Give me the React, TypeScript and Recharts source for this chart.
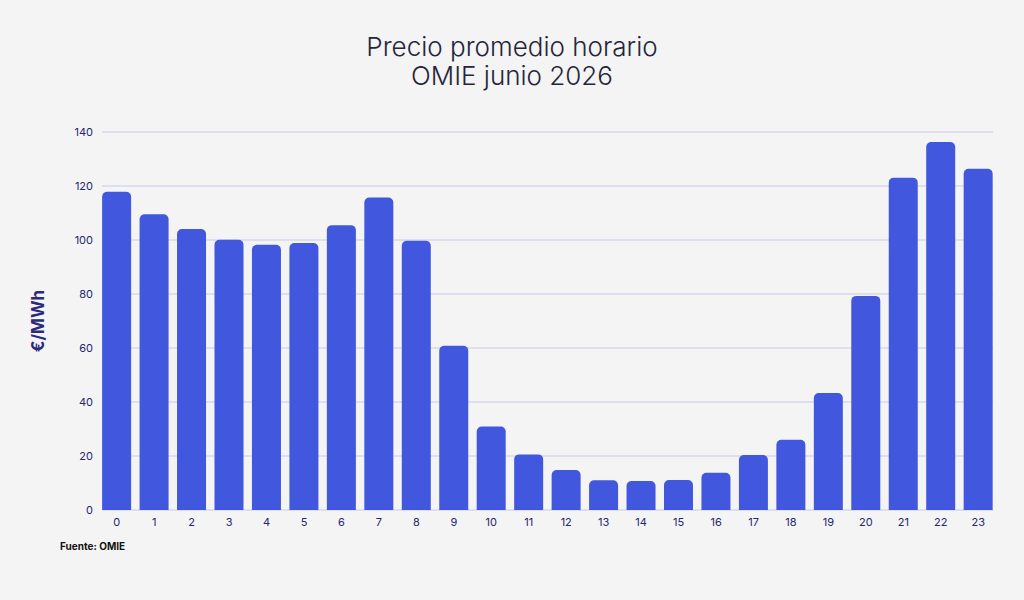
import { BarChart, Bar, XAxis, YAxis, CartesianGrid } from 'recharts'

// hourly average price, OMIE June 2026 (€/MWh)
const hours = ['0', '1', '2', '3', '4', '5', '6', '7', '8', '9', '10', '11', '12', '13', '14', '15', '16', '17', '18', '19', '20', '21', '22', '23']
const prices = [117.9, 109.5, 104.1, 100.1, 98.2, 98.9, 105.5, 115.7, 99.7, 60.8, 30.9, 20.6, 14.8, 11.0, 10.7, 11.1, 13.8, 20.4, 26.0, 43.3, 79.3, 123.1, 136.3, 126.4]
const yTicks = [0, 20, 40, 60, 80, 100, 120, 140]

const titleLines = ['Precio promedio horario', 'OMIE junio 2026']
const yLabel = '€/MWh'
const source = 'Fuente: OMIE'

const chartData = hours.map((h, i) => ({ hour: h, price: prices[i] }))

const font = 'Inter, "Noto Sans", sans-serif'
const navy = '#27256b'

export default function App() {
  return (
    <div
      style={{
        position: 'fixed',
        top: 0,
        left: 0,
        width: 1024,
        height: 600,
        background: '#f4f4f4',
        fontFamily: font,
        overflow: 'hidden'
      }}
    >
      <div
        style={{
          position: 'absolute',
          top: 32,
          left: 0,
          width: 1024,
          textAlign: 'center',
          fontSize: 26,
          lineHeight: '29px',
          fontWeight: 300,
          color: '#25253a'
        }}
      >
        {titleLines.map(t => (
          <div key={t}>{t}</div>
        ))}
      </div>

      <BarChart
        width={1024}
        height={600}
        data={chartData}
        margin={{ top: 132, right: 27, bottom: 60, left: 48 }}
        barCategoryGap="11%"
      >
        <CartesianGrid vertical={false} x={102} width={891} stroke="#c9c8e8" strokeWidth={1} />
        <XAxis
          dataKey="hour"
          axisLine={false}
          tickLine={false}
          tickMargin={2}
          tick={{ fontSize: 11, fill: navy, fontFamily: font }}
          interval={0}
        />
        <YAxis
          width={50}
          domain={[0, 140]}
          ticks={yTicks}
          axisLine={false}
          tickLine={false}
          tickSize={5}
          tickMargin={0}
          tick={{ fontSize: 11, fill: navy, fontFamily: font }}
          label={({ viewBox }: any) => (
            <text
              x={viewBox.x - 10}
              y={viewBox.y + viewBox.height / 2}
              transform={`rotate(-90, ${viewBox.x - 10}, ${viewBox.y + viewBox.height / 2})`}
              textAnchor="middle"
              dominantBaseline="central"
              fontSize={17}
              fontWeight={700}
              fill="#2b2a7c"
              fontFamily={font}
            >
              {yLabel}
            </text>
          )}
        />
        <Bar dataKey="price" fill="#4057de" radius={[5, 5, 0, 0]} isAnimationActive={false} />
      </BarChart>

      <div
        style={{
          position: 'absolute',
          top: 540,
          left: 60,
          fontSize: 10,
          fontWeight: 700,
          color: '#111',
          lineHeight: '12px'
        }}
      >
        {source}
      </div>
    </div>
  )
}
